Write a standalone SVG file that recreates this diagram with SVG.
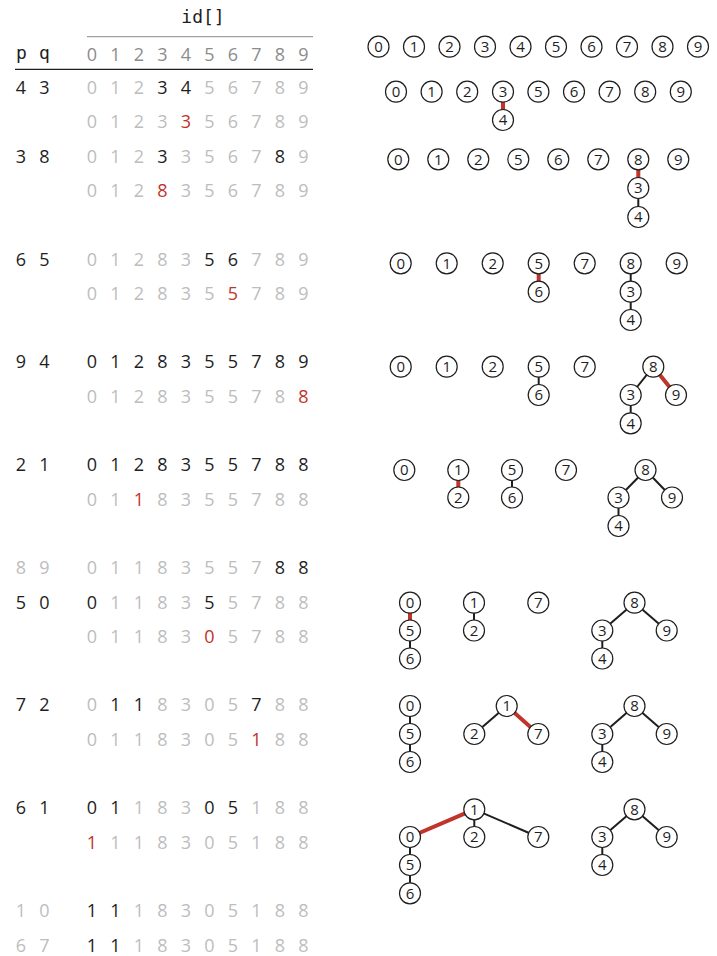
<svg xmlns="http://www.w3.org/2000/svg" width="717" height="956" viewBox="0 0 717 956">
<style>
.d{font-family:"Open Sans","Liberation Sans",sans-serif;font-size:18px;text-anchor:middle;fill:#bdbdbd}
.h{fill:#8c8c8c}
.k{fill:#1e1e1e}
.r{fill:#c0342a}
.m{font-family:"DejaVu Sans Mono","Liberation Mono",monospace;font-size:18px;text-anchor:middle;fill:#1e1e1e}
.n circle{fill:#fff;stroke:#1e1e1e;stroke-width:1.2}
.n text{font-family:"Open Sans","Liberation Sans",sans-serif;font-size:15px;text-anchor:middle;fill:#1e1e1e}
.e{stroke:#1e1e1e;stroke-width:2;fill:none}
.er{stroke:#c0342a;stroke-width:4;fill:none}
</style>
<rect width="717" height="956" fill="#fff"/>
<g id="table">
<text class="m" x="203" y="23">id[]</text>
<line x1="87" y1="36.7" x2="313" y2="36.7" stroke="#8c8c8c" stroke-width="1"/>
<text class="m" x="21.5" y="58.5">p</text>
<text class="m" x="44.5" y="58.5">q</text>
<text class="d h" x="92 115.5 139 162.5 186 209.5 233 256.5 280 303.5" y="61">0123456789</text>
<line x1="15" y1="69.3" x2="313" y2="69.3" stroke="#1e1e1e" stroke-width="1.3"/>

<text class="d k" x="21 44.5" y="94">43</text>
<text class="d" x="92 115.5 139 162.5 186 209.5 233 256.5 280 303.5" y="94">012<tspan class="k">34</tspan>56789</text>
<text class="d" x="92 115.5 139 162.5 186 209.5 233 256.5 280 303.5" y="128.3">0123<tspan class="r">3</tspan>56789</text>
<text class="d k" x="21 44.5" y="162.6">38</text>
<text class="d" x="92 115.5 139 162.5 186 209.5 233 256.5 280 303.5" y="162.6">012<tspan class="k">3</tspan>3567<tspan class="k">8</tspan>9</text>
<text class="d" x="92 115.5 139 162.5 186 209.5 233 256.5 280 303.5" y="196.9">012<tspan class="r">8</tspan>356789</text>

<text class="d k" x="21 44.5" y="265.5">65</text>
<text class="d" x="92 115.5 139 162.5 186 209.5 233 256.5 280 303.5" y="265.5">01283<tspan class="k">56</tspan>789</text>
<text class="d" x="92 115.5 139 162.5 186 209.5 233 256.5 280 303.5" y="299.8">012835<tspan class="r">5</tspan>789</text>

<text class="d k" x="21 44.5" y="368.4">94</text>
<text class="d k" x="92 115.5 139 162.5 186 209.5 233 256.5 280 303.5" y="368.4">0128355789</text>
<text class="d" x="92 115.5 139 162.5 186 209.5 233 256.5 280 303.5" y="402.7">012835578<tspan class="r">8</tspan></text>

<text class="d k" x="21 44.5" y="471.3">21</text>
<text class="d k" x="92 115.5 139 162.5 186 209.5 233 256.5 280 303.5" y="471.3">0128355788</text>
<text class="d" x="92 115.5 139 162.5 186 209.5 233 256.5 280 303.5" y="505.6">01<tspan class="r">1</tspan>8355788</text>

<text class="d" x="21 44.5" y="574.2">89</text>
<text class="d" x="92 115.5 139 162.5 186 209.5 233 256.5 280 303.5" y="574.2">01183557<tspan class="k">88</tspan></text>
<text class="d k" x="21 44.5" y="608.5">50</text>
<text class="d" x="92 115.5 139 162.5 186 209.5 233 256.5 280 303.5" y="608.5"><tspan class="k">0</tspan>1183<tspan class="k">5</tspan>5788</text>
<text class="d" x="92 115.5 139 162.5 186 209.5 233 256.5 280 303.5" y="642.8">01183<tspan class="r">0</tspan>5788</text>

<text class="d k" x="21 44.5" y="711.4">72</text>
<text class="d" x="92 115.5 139 162.5 186 209.5 233 256.5 280 303.5" y="711.4">0<tspan class="k">11</tspan>8305<tspan class="k">7</tspan>88</text>
<text class="d" x="92 115.5 139 162.5 186 209.5 233 256.5 280 303.5" y="745.7">0118305<tspan class="r">1</tspan>88</text>

<text class="d k" x="21 44.5" y="814.3">61</text>
<text class="d" x="92 115.5 139 162.5 186 209.5 233 256.5 280 303.5" y="814.3"><tspan class="k">01</tspan>183<tspan class="k">05</tspan>188</text>
<text class="d" x="92 115.5 139 162.5 186 209.5 233 256.5 280 303.5" y="848.6"><tspan class="r">1</tspan>118305188</text>

<text class="d" x="21 44.5" y="917.2">10</text>
<text class="d" x="92 115.5 139 162.5 186 209.5 233 256.5 280 303.5" y="917.2"><tspan class="k">11</tspan>18305188</text>
<text class="d" x="21 44.5" y="951.5">67</text>
<text class="d" x="92 115.5 139 162.5 186 209.5 233 256.5 280 303.5" y="951.5"><tspan class="k">11</tspan>18305188</text>
</g>

<g id="connectors">
<line class="er" x1="503" y1="91.7" x2="503" y2="120"/>
<line class="er" x1="638.3" y1="159.3" x2="638.3" y2="188"/>
<line class="e" x1="638.3" y1="188" x2="638.3" y2="217"/>
<line class="er" x1="538.7" y1="263.3" x2="538.7" y2="291.7"/>
<line class="e" x1="630.7" y1="263.3" x2="630.7" y2="291.7"/>
<line class="e" x1="630.7" y1="291.7" x2="630.7" y2="320"/>
<line class="e" x1="538.7" y1="366.7" x2="538.7" y2="395"/>
<line class="e" x1="653.3" y1="366.7" x2="630.7" y2="395"/>
<line class="er" x1="653.3" y1="366.7" x2="676" y2="395"/>
<line class="e" x1="630.7" y1="395" x2="630.7" y2="423.3"/>
<line class="er" x1="458.3" y1="470" x2="458.3" y2="497.5"/>
<line class="e" x1="512" y1="470" x2="512" y2="497.5"/>
<line class="e" x1="645.5" y1="470" x2="618.5" y2="497.5"/>
<line class="e" x1="645.5" y1="470" x2="672" y2="497.5"/>
<line class="e" x1="618.5" y1="497.5" x2="618.5" y2="526"/>
<line class="er" x1="410" y1="602.7" x2="410" y2="630.5"/>
<line class="e" x1="410" y1="630.5" x2="410" y2="658.5"/>
<line class="e" x1="474" y1="602.7" x2="474" y2="630.5"/>
<line class="e" x1="634.5" y1="602.7" x2="602.3" y2="630.5"/>
<line class="e" x1="634.5" y1="602.7" x2="666.7" y2="630.5"/>
<line class="e" x1="602.3" y1="630.5" x2="602.3" y2="658.5"/>
<line class="e" x1="410" y1="706" x2="410" y2="734"/>
<line class="e" x1="410" y1="734" x2="410" y2="762"/>
<line class="e" x1="506.7" y1="706" x2="474.3" y2="734"/>
<line class="er" x1="506.7" y1="706" x2="538.3" y2="734"/>
<line class="e" x1="634.5" y1="706" x2="602.3" y2="734"/>
<line class="e" x1="634.5" y1="706" x2="666.7" y2="734"/>
<line class="e" x1="602.3" y1="734" x2="602.3" y2="762"/>
<line class="er" x1="474.3" y1="809.3" x2="410" y2="837"/>
<line class="e" x1="474.3" y1="809.3" x2="474.3" y2="837"/>
<line class="e" x1="474.3" y1="809.3" x2="538.3" y2="837"/>
<line class="e" x1="410" y1="837" x2="410" y2="865"/>
<line class="e" x1="410" y1="865" x2="410" y2="893.3"/>
<line class="e" x1="634.5" y1="809.3" x2="602.3" y2="837"/>
<line class="e" x1="634.5" y1="809.3" x2="666.7" y2="837"/>
<line class="e" x1="602.3" y1="837" x2="602.3" y2="865"/>
</g>

<g id="nodes">
<g id="t1-0" class="n"><circle cx="378.5" cy="46.7" r="10.5"/><text x="378.5" y="52">0</text></g>
<g id="t1-1" class="n"><circle cx="414" cy="46.7" r="10.5"/><text x="414" y="52">1</text></g>
<g id="t1-2" class="n"><circle cx="449.5" cy="46.7" r="10.5"/><text x="449.5" y="52">2</text></g>
<g id="t1-3" class="n"><circle cx="485" cy="46.7" r="10.5"/><text x="485" y="52">3</text></g>
<g id="t1-4" class="n"><circle cx="520.5" cy="46.7" r="10.5"/><text x="520.5" y="52">4</text></g>
<g id="t1-5" class="n"><circle cx="556" cy="46.7" r="10.5"/><text x="556" y="52">5</text></g>
<g id="t1-6" class="n"><circle cx="591.5" cy="46.7" r="10.5"/><text x="591.5" y="52">6</text></g>
<g id="t1-7" class="n"><circle cx="627" cy="46.7" r="10.5"/><text x="627" y="52">7</text></g>
<g id="t1-8" class="n"><circle cx="662.5" cy="46.7" r="10.5"/><text x="662.5" y="52">8</text></g>
<g id="t1-9" class="n"><circle cx="698" cy="46.7" r="10.5"/><text x="698" y="52">9</text></g>

<g id="t2-0" class="n"><circle cx="396" cy="91.7" r="10.5"/><text x="396" y="97">0</text></g>
<g id="t2-1" class="n"><circle cx="431.6" cy="91.7" r="10.5"/><text x="431.6" y="97">1</text></g>
<g id="t2-2" class="n"><circle cx="467.2" cy="91.7" r="10.5"/><text x="467.2" y="97">2</text></g>
<g id="t2-3" class="n"><circle cx="503" cy="91.7" r="10.5"/><text x="503" y="97">3</text></g>
<g id="t2-4" class="n"><circle cx="503" cy="120" r="10.5"/><text x="503" y="125.3">4</text></g>
<g id="t2-5" class="n"><circle cx="538.4" cy="91.7" r="10.5"/><text x="538.4" y="97">5</text></g>
<g id="t2-6" class="n"><circle cx="574" cy="91.7" r="10.5"/><text x="574" y="97">6</text></g>
<g id="t2-7" class="n"><circle cx="609.6" cy="91.7" r="10.5"/><text x="609.6" y="97">7</text></g>
<g id="t2-8" class="n"><circle cx="645.2" cy="91.7" r="10.5"/><text x="645.2" y="97">8</text></g>
<g id="t2-9" class="n"><circle cx="680.8" cy="91.7" r="10.5"/><text x="680.8" y="97">9</text></g>

<g id="t3-0" class="n"><circle cx="398.3" cy="159.3" r="10.5"/><text x="398.3" y="164.6">0</text></g>
<g id="t3-1" class="n"><circle cx="438.3" cy="159.3" r="10.5"/><text x="438.3" y="164.6">1</text></g>
<g id="t3-2" class="n"><circle cx="478.3" cy="159.3" r="10.5"/><text x="478.3" y="164.6">2</text></g>
<g id="t3-5" class="n"><circle cx="518.3" cy="159.3" r="10.5"/><text x="518.3" y="164.6">5</text></g>
<g id="t3-6" class="n"><circle cx="558.3" cy="159.3" r="10.5"/><text x="558.3" y="164.6">6</text></g>
<g id="t3-7" class="n"><circle cx="598.3" cy="159.3" r="10.5"/><text x="598.3" y="164.6">7</text></g>
<g id="t3-8" class="n"><circle cx="638.3" cy="159.3" r="10.5"/><text x="638.3" y="164.6">8</text></g>
<g id="t3-3" class="n"><circle cx="638.3" cy="188" r="10.5"/><text x="638.3" y="193.3">3</text></g>
<g id="t3-4" class="n"><circle cx="638.3" cy="217" r="10.5"/><text x="638.3" y="222.3">4</text></g>
<g id="t3-9" class="n"><circle cx="678.3" cy="159.3" r="10.5"/><text x="678.3" y="164.6">9</text></g>

<g id="t4-0" class="n"><circle cx="400.7" cy="263.3" r="10.5"/><text x="400.7" y="268.6">0</text></g>
<g id="t4-1" class="n"><circle cx="446.7" cy="263.3" r="10.5"/><text x="446.7" y="268.6">1</text></g>
<g id="t4-2" class="n"><circle cx="492.7" cy="263.3" r="10.5"/><text x="492.7" y="268.6">2</text></g>
<g id="t4-5" class="n"><circle cx="538.7" cy="263.3" r="10.5"/><text x="538.7" y="268.6">5</text></g>
<g id="t4-6" class="n"><circle cx="538.7" cy="291.7" r="10.5"/><text x="538.7" y="297">6</text></g>
<g id="t4-7" class="n"><circle cx="584.7" cy="263.3" r="10.5"/><text x="584.7" y="268.6">7</text></g>
<g id="t4-8" class="n"><circle cx="630.7" cy="263.3" r="10.5"/><text x="630.7" y="268.6">8</text></g>
<g id="t4-3" class="n"><circle cx="630.7" cy="291.7" r="10.5"/><text x="630.7" y="297">3</text></g>
<g id="t4-4" class="n"><circle cx="630.7" cy="320" r="10.5"/><text x="630.7" y="325.3">4</text></g>
<g id="t4-9" class="n"><circle cx="676.7" cy="263.3" r="10.5"/><text x="676.7" y="268.6">9</text></g>

<g id="t5-0" class="n"><circle cx="400.7" cy="366.7" r="10.5"/><text x="400.7" y="372">0</text></g>
<g id="t5-1" class="n"><circle cx="446.7" cy="366.7" r="10.5"/><text x="446.7" y="372">1</text></g>
<g id="t5-2" class="n"><circle cx="492.7" cy="366.7" r="10.5"/><text x="492.7" y="372">2</text></g>
<g id="t5-5" class="n"><circle cx="538.7" cy="366.7" r="10.5"/><text x="538.7" y="372">5</text></g>
<g id="t5-6" class="n"><circle cx="538.7" cy="395" r="10.5"/><text x="538.7" y="400.3">6</text></g>
<g id="t5-7" class="n"><circle cx="584.7" cy="366.7" r="10.5"/><text x="584.7" y="372">7</text></g>
<g id="t5-8" class="n"><circle cx="653.3" cy="366.7" r="10.5"/><text x="653.3" y="372">8</text></g>
<g id="t5-3" class="n"><circle cx="630.7" cy="395" r="10.5"/><text x="630.7" y="400.3">3</text></g>
<g id="t5-9" class="n"><circle cx="676" cy="395" r="10.5"/><text x="676" y="400.3">9</text></g>
<g id="t5-4" class="n"><circle cx="630.7" cy="423.3" r="10.5"/><text x="630.7" y="428.6">4</text></g>

<g id="t6-0" class="n"><circle cx="404.3" cy="470" r="10.5"/><text x="404.3" y="475.3">0</text></g>
<g id="t6-1" class="n"><circle cx="458.3" cy="470" r="10.5"/><text x="458.3" y="475.3">1</text></g>
<g id="t6-2" class="n"><circle cx="458.3" cy="497.5" r="10.5"/><text x="458.3" y="502.8">2</text></g>
<g id="t6-5" class="n"><circle cx="512" cy="470" r="10.5"/><text x="512" y="475.3">5</text></g>
<g id="t6-6" class="n"><circle cx="512" cy="497.5" r="10.5"/><text x="512" y="502.8">6</text></g>
<g id="t6-7" class="n"><circle cx="566" cy="470" r="10.5"/><text x="566" y="475.3">7</text></g>
<g id="t6-8" class="n"><circle cx="645.5" cy="470" r="10.5"/><text x="645.5" y="475.3">8</text></g>
<g id="t6-3" class="n"><circle cx="618.5" cy="497.5" r="10.5"/><text x="618.5" y="502.8">3</text></g>
<g id="t6-9" class="n"><circle cx="672" cy="497.5" r="10.5"/><text x="672" y="502.8">9</text></g>
<g id="t6-4" class="n"><circle cx="618.5" cy="526" r="10.5"/><text x="618.5" y="531.3">4</text></g>

<g id="t7-0" class="n"><circle cx="410" cy="602.7" r="10.5"/><text x="410" y="608">0</text></g>
<g id="t7-5" class="n"><circle cx="410" cy="630.5" r="10.5"/><text x="410" y="635.8">5</text></g>
<g id="t7-6" class="n"><circle cx="410" cy="658.5" r="10.5"/><text x="410" y="663.8">6</text></g>
<g id="t7-1" class="n"><circle cx="474" cy="602.7" r="10.5"/><text x="474" y="608">1</text></g>
<g id="t7-2" class="n"><circle cx="474" cy="630.5" r="10.5"/><text x="474" y="635.8">2</text></g>
<g id="t7-7" class="n"><circle cx="538.3" cy="602.7" r="10.5"/><text x="538.3" y="608">7</text></g>
<g id="t7-8" class="n"><circle cx="634.5" cy="602.7" r="10.5"/><text x="634.5" y="608">8</text></g>
<g id="t7-3" class="n"><circle cx="602.3" cy="630.5" r="10.5"/><text x="602.3" y="635.8">3</text></g>
<g id="t7-9" class="n"><circle cx="666.7" cy="630.5" r="10.5"/><text x="666.7" y="635.8">9</text></g>
<g id="t7-4" class="n"><circle cx="602.3" cy="658.5" r="10.5"/><text x="602.3" y="663.8">4</text></g>

<g id="t8-0" class="n"><circle cx="410" cy="706" r="10.5"/><text x="410" y="711.3">0</text></g>
<g id="t8-5" class="n"><circle cx="410" cy="734" r="10.5"/><text x="410" y="739.3">5</text></g>
<g id="t8-6" class="n"><circle cx="410" cy="762" r="10.5"/><text x="410" y="767.3">6</text></g>
<g id="t8-1" class="n"><circle cx="506.7" cy="706" r="10.5"/><text x="506.7" y="711.3">1</text></g>
<g id="t8-2" class="n"><circle cx="474.3" cy="734" r="10.5"/><text x="474.3" y="739.3">2</text></g>
<g id="t8-7" class="n"><circle cx="538.3" cy="734" r="10.5"/><text x="538.3" y="739.3">7</text></g>
<g id="t8-8" class="n"><circle cx="634.5" cy="706" r="10.5"/><text x="634.5" y="711.3">8</text></g>
<g id="t8-3" class="n"><circle cx="602.3" cy="734" r="10.5"/><text x="602.3" y="739.3">3</text></g>
<g id="t8-9" class="n"><circle cx="666.7" cy="734" r="10.5"/><text x="666.7" y="739.3">9</text></g>
<g id="t8-4" class="n"><circle cx="602.3" cy="762" r="10.5"/><text x="602.3" y="767.3">4</text></g>

<g id="t9-1" class="n"><circle cx="474.3" cy="809.3" r="10.5"/><text x="474.3" y="814.6">1</text></g>
<g id="t9-0" class="n"><circle cx="410" cy="837" r="10.5"/><text x="410" y="842.3">0</text></g>
<g id="t9-2" class="n"><circle cx="474.3" cy="837" r="10.5"/><text x="474.3" y="842.3">2</text></g>
<g id="t9-7" class="n"><circle cx="538.3" cy="837" r="10.5"/><text x="538.3" y="842.3">7</text></g>
<g id="t9-5" class="n"><circle cx="410" cy="865" r="10.5"/><text x="410" y="870.3">5</text></g>
<g id="t9-6" class="n"><circle cx="410" cy="893.3" r="10.5"/><text x="410" y="898.6">6</text></g>
<g id="t9-8" class="n"><circle cx="634.5" cy="809.3" r="10.5"/><text x="634.5" y="814.6">8</text></g>
<g id="t9-3" class="n"><circle cx="602.3" cy="837" r="10.5"/><text x="602.3" y="842.3">3</text></g>
<g id="t9-9" class="n"><circle cx="666.7" cy="837" r="10.5"/><text x="666.7" y="842.3">9</text></g>
<g id="t9-4" class="n"><circle cx="602.3" cy="865" r="10.5"/><text x="602.3" y="870.3">4</text></g>
</g>
</svg>
